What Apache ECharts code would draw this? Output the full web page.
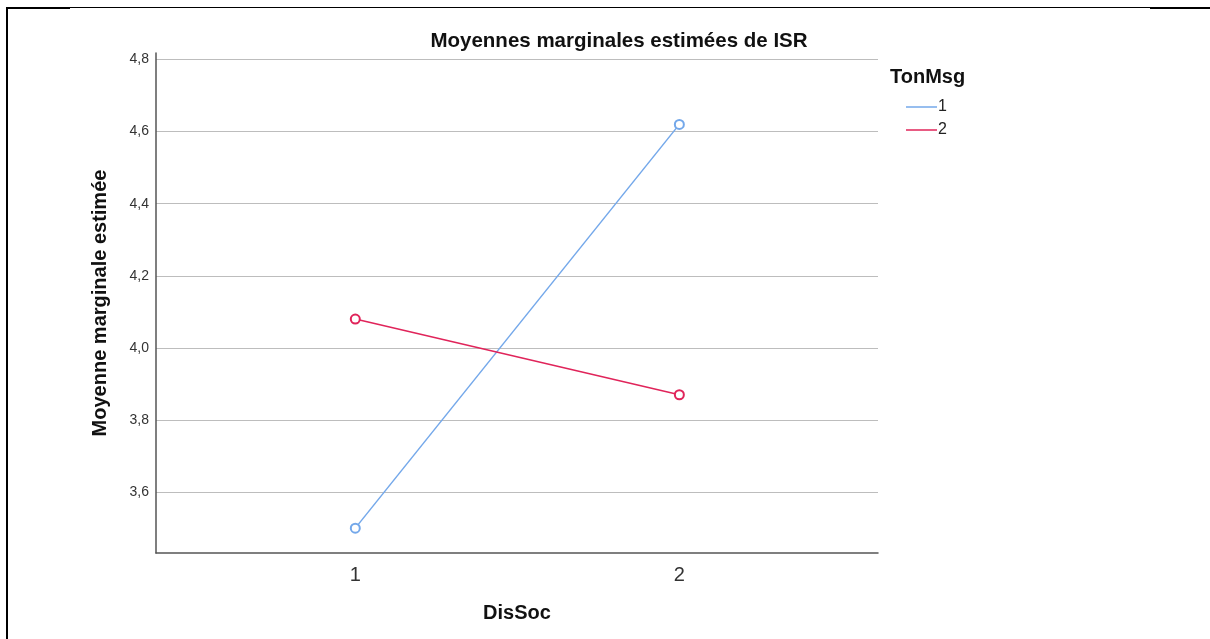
<!DOCTYPE html>
<html>
<head>
<meta charset="utf-8">
<script src="https://cdn.jsdelivr.net/npm/echarts@6/dist/echarts.min.js"></script>
<style>
  html, body { margin: 0; padding: 0; background: #fff; }
  #chart { width: 1210px; height: 639px; }
</style>
</head>
<body>
<div id="chart"></div>
<script>
// données
var disSoc = [1, 2];
var ton1 = [3.50, 4.62];
var ton2 = [4.08, 3.87];
var seriesNames = ["1", "2"];
var yTicks = [3.6, 3.8, 4.0, 4.2, 4.4, 4.6, 4.8];

function pairs(xs, ys) {
  return xs.map(function (x, i) { return [x, ys[i]]; });
}

var chart = echarts.init(document.getElementById("chart"));
var option = {
  animation: false,
  color: ["#74a8ea", "#e0245a"],
  textStyle: { fontFamily: "Liberation Sans, Arial, sans-serif" },
  title: [
    {
      text: "Moyennes marginales estimées de ISR",
      left: 614,
      textAlign: "center",
      top: 26,
      textStyle: { fontSize: 20.5, fontWeight: "bold", color: "#111" }
    },
    {
      text: "TonMsg",
      left: 885,
      top: 62,
      textStyle: { fontSize: 20, fontWeight: "bold", color: "#111" }
    }
  ],
  legend: {
    orient: "vertical",
    left: 901,
    top: 94,
    icon: "rect",
    itemWidth: 31,
    itemHeight: 1.5,
    itemGap: 7,
    textStyle: { fontSize: 16, color: "#222", padding: [0, 0, 0, -4] },
    data: seriesNames
  },
  grid: { left: 156, right: 332, top: 53, bottom: 86 },
  xAxis: {
    type: "value",
    min: 0.385,
    max: 2.613,
    name: "DisSoc",
    nameLocation: "middle",
    nameGap: 50,
    nameTextStyle: { fontSize: 20, fontWeight: "bold", color: "#111" },
    axisLine: { show: true, lineStyle: { color: "#555", width: 1.5 } },
    axisTick: { show: false, customValues: disSoc },
    axisLabel: { customValues: disSoc, fontSize: 20, color: "#333", margin: 12 },
    splitLine: { show: false }
  },
  yAxis: {
    type: "value",
    min: 3.431,
    max: 4.818,
    name: "Moyenne marginale estimée",
    nameLocation: "middle",
    nameGap: 46,
    nameTextStyle: { fontSize: 20, fontWeight: "bold", color: "#111" },
    axisLine: { show: true, lineStyle: { color: "#555", width: 1.5 } },
    axisTick: { show: false, customValues: yTicks },
    axisLabel: {
      customValues: yTicks,
      fontSize: 14,
      color: "#333",
      margin: 7,
      formatter: function (v) { return v.toFixed(1).replace(".", ","); }
    },
    splitLine: { show: true, lineStyle: { color: "#bdbdbd", width: 1.2 } }
  },
  series: [
    {
      name: seriesNames[0],
      type: "line",
      data: pairs(disSoc, ton1),
      symbol: "emptyCircle",
      symbolSize: 9,
      lineStyle: { width: 1.5 },
      itemStyle: { borderWidth: 1.3 }
    },
    {
      name: seriesNames[1],
      type: "line",
      data: pairs(disSoc, ton2),
      symbol: "emptyCircle",
      symbolSize: 9,
      lineStyle: { width: 1.5 },
      itemStyle: { borderWidth: 1.3 }
    }
  ],
  graphic: [
    { type: "line", shape: { x1: 6, y1: 7.5, x2: 1210, y2: 7.5 }, style: { stroke: "#000", lineWidth: 1 } },
    { type: "line", shape: { x1: 6, y1: 8, x2: 70, y2: 8 }, style: { stroke: "#000", lineWidth: 2 } },
    { type: "line", shape: { x1: 1150, y1: 8, x2: 1210, y2: 8 }, style: { stroke: "#000", lineWidth: 2 } },
    { type: "line", shape: { x1: 7, y1: 7, x2: 7, y2: 639 }, style: { stroke: "#000", lineWidth: 2 } }
  ]
};
chart.setOption(option);
</script>
</body>
</html>
